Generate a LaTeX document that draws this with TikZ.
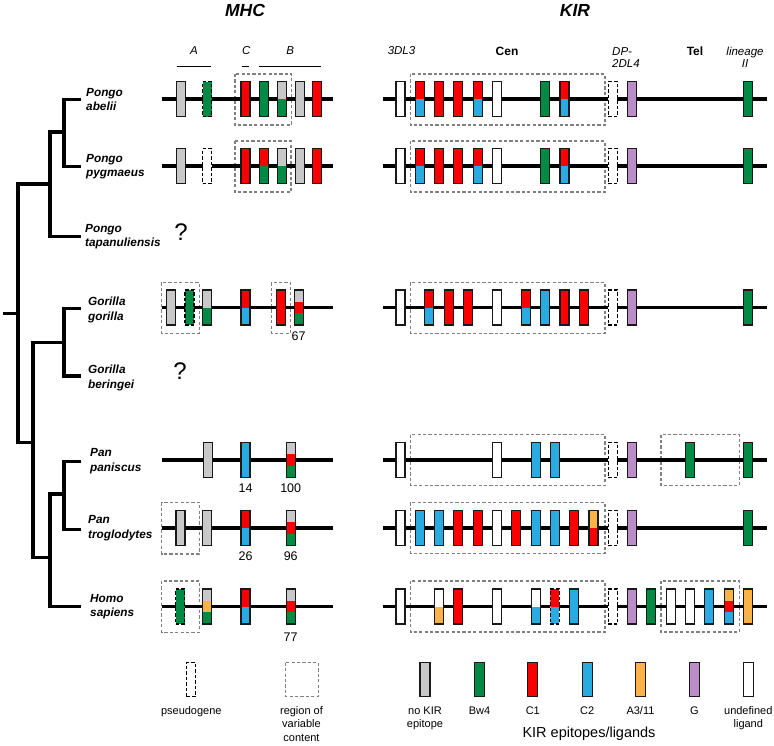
\documentclass[tikz,border=0pt]{standalone}
\usepackage{fontspec}
\setmainfont{Liberation Sans}
\usetikzlibrary{calc}
\definecolor{cgray}{RGB}{200,200,200}
\definecolor{cgreen}{RGB}{0,138,68}
\definecolor{cred}{RGB}{250,0,0}
\definecolor{cblue}{RGB}{41,171,226}
\definecolor{corange}{RGB}{251,178,70}
\definecolor{cpurple}{RGB}{186,140,200}
\definecolor{cregion}{RGB}{128,128,128}
\begin{document}
\begin{tikzpicture}[x=1pt,y=-1pt,
  chrom/.style={line width=3.1pt},
  tree/.style={line width=3.2pt, line join=miter},
  gene/.style={rectangle, draw=black!90, line width=1.1pt, minimum width=9pt, minimum height=35pt, inner sep=0pt, fill=white},
  lgene/.style={gene, minimum width=10pt, minimum height=34pt},
  pseudo/.style={gene, draw=black, line width=1.4pt, dash pattern=on 3.5pt off 2pt},
  region/.style={draw=cregion, line width=1.2pt, dash pattern=on 3.2pt off 2.2pt},
  two/.style 2 args={path picture={
    \fill[#1] (path picture bounding box.north west) rectangle (path picture bounding box.east);
    \fill[#2] (path picture bounding box.west) rectangle (path picture bounding box.south east);}},
  three/.style n args={3}{path picture={
    \fill[#1] (path picture bounding box.north west) rectangle ($(path picture bounding box.north east)!0.34!(path picture bounding box.south east)$);
    \fill[#2] ($(path picture bounding box.north west)!0.34!(path picture bounding box.south west)$) rectangle ($(path picture bounding box.north east)!0.66!(path picture bounding box.south east)$);
    \fill[#3] ($(path picture bounding box.north west)!0.66!(path picture bounding box.south west)$) rectangle (path picture bounding box.south east);}},
  sp/.style={font=\fontsize{11.8}{14.5}\selectfont\bfseries\itshape, align=left, anchor=west, inner sep=0pt},
  hdr/.style={font=\fontsize{17.5}{20}\selectfont\bfseries\itshape, inner sep=0pt},
  sub/.style={font=\fontsize{11.5}{12}\selectfont\itshape, inner sep=0pt},
  subb/.style={font=\fontsize{12}{13}\selectfont\bfseries, inner sep=0pt},
  num/.style={font=\fontsize{12.5}{14}\selectfont, inner sep=0pt},
  qm/.style={font=\fontsize{24}{26}\selectfont, inner sep=0pt},
  leg/.style={font=\fontsize{11}{13.3}\selectfont, align=center, anchor=north, inner sep=0pt},
  hline/.style={line width=1.1pt}
]
\useasboundingbox (0,0) rectangle (774,745);

% ---------------- headers
\node[hdr] (hMHC) at (245,10) {MHC};
\node[hdr] (hKIR) at (575,10) {KIR};
\node[sub] (hA) at (194,51) {A};
\node[sub] (hC) at (246.3,51) {C};
\node[sub] (hB) at (290.3,51) {B};
\coordinate (lA1) at (176.7,66.7); \coordinate (lA2) at (211,66.7);
\coordinate (lC1) at (241.7,66.7); \coordinate (lC2) at (249.3,66.7);
\coordinate (lB1) at (259.3,66.7); \coordinate (lB2) at (321,66.7);
\draw[hline] (lA1) -- (lA2);
\draw[hline] (lC1) -- (lC2);
\draw[hline] (lB1) -- (lB2);
\node[sub] (h3DL3) at (401.5,51) {3DL3};
\node[subb] (hCen) at (507,51) {Cen};
\node[sub, align=left, anchor=west, font=\fontsize{11.5}{11.8}\selectfont\itshape] (hDP) at (612,57.5) {DP-\\2DL4};
\node[subb] (hTel) at (695,51) {Tel};
\node[sub, align=center, font=\fontsize{11.5}{11.8}\selectfont\itshape] (hlin) at (745,57.5) {lineage\\II};

% ---------------- tree
\coordinate (t1) at (81,99.3);
\draw[tree] (t1) -| (64,166.7) -- (81,166.7);
\draw[tree] (64,132) -- (50,132) |- (81,236.7);
\draw[tree] (50,184) -- (18,184) -- (18,442.3) -- (33,442.3);
\draw[tree] (3,313.3) -- (18,313.3);
\draw[tree] (81,308.3) -| (64,376) -- (81,376);
\draw[tree] (64,342.7) -| (33,557.3) -- (50,557.3);
\draw[tree] (81,461.7) -| (64,529.3) -- (81,529.3);
\draw[tree] (64,494) -| (50,606.7) -- (81,606.7);

\node[sp] (Lpa) at (86,99.3) {Pongo\\abelii};
\node[sp] (Lpp) at (86,166.7) {Pongo\\pygmaeus};
\node[sp] (Lpt) at (85,236.7) {Pongo\\tapanuliensis};
\node[sp] (Lgg) at (88,310) {Gorilla\\gorilla};
\node[sp] (Lgb) at (88,378) {Gorilla\\beringei};
\node[sp] (Lpn) at (90,461) {Pan\\paniscus};
\node[sp] (Ltr) at (88,528) {Pan\\troglodytes};
\node[sp] (Lhs) at (90,606.7) {Homo\\sapiens};
\node[qm] (q1) at (181,232) {?};
\node[qm] (q2) at (180,371.5) {?};

% ---------------- MHC row 1: Pongo abelii
\draw[region] (235,74) rectangle (291.5,125);
\coordinate (m1a) at (161.7,99); \coordinate (m1b) at (332.7,99);
\draw[chrom] (m1a) -- (m1b);
\node[gene, fill=cgray] (m1g1) at (181,99) {};
\node[pseudo, fill=cgreen] (m1g2) at (207,99) {};
\node[gene, fill=cred] (m1g3) at (245.5,99) {};
\node[gene, fill=cgreen] (m1g4) at (263.7,99) {};
\node[gene, two={cgray}{cgreen}] (m1g5) at (281.7,99) {};
\node[gene, fill=cgray] (m1g6) at (300,99) {};
\node[gene, fill=cred] (m1g7) at (317,99) {};

% ---------------- MHC row 2: Pongo pygmaeus
\draw[region] (235,141) rectangle (291,192);
\coordinate (m2a) at (161.7,166); \coordinate (m2b) at (332.7,166);
\draw[chrom] (m2a) -- (m2b);
\node[gene, fill=cgray] (m2g1) at (181,166) {};
\node[pseudo] (m2g2) at (207,166) {};
\node[gene, fill=cred] (m2g3) at (245.5,166) {};
\node[gene, two={cred}{cgreen}] (m2g4) at (263.7,166) {};
\node[gene, two={cgray}{cgreen}] (m2g5) at (281.7,166) {};
\node[gene, fill=cgray] (m2g6) at (300,166) {};
\node[gene, fill=cred] (m2g7) at (317,166) {};

% ---------------- MHC row 3: Gorilla gorilla
\draw[region] (161.7,282.3) rectangle (199.3,333.3);
\draw[region] (271.7,282.3) rectangle (290.7,333.3);
\coordinate (m3a) at (161.7,307.5); \coordinate (m3b) at (332.7,307.5);
\draw[chrom] (m3a) -- (m3b);
\node[gene, fill=cgray] (m3g1) at (171,307.5) {};
\node[pseudo, fill=cgreen] (m3g2) at (189.5,307.5) {};
\node[gene, two={cgray}{cgreen}] (m3g3) at (207,307.5) {};
\node[gene, two={cred}{cblue}] (m3g4) at (245.5,307.5) {};
\node[gene, fill=cred] (m3g5) at (281,307.5) {};
\node[gene, three={cgray}{cred}{cgreen}] (m3g6) at (299,307.5) {};
\node[num] (n67) at (298.5,336) {67};

% ---------------- MHC row 4: Pan paniscus
\coordinate (m4a) at (161.7,460); \coordinate (m4b) at (332.7,460);
\draw[chrom] (m4a) -- (m4b);
\node[gene, fill=cgray] (m4g1) at (207.8,460) {};
\node[gene, fill=cblue] (m4g2) at (245.5,460) {};
\node[gene, three={cgray}{cred}{cgreen}] (m4g3) at (290.7,460) {};
\node[num] (n14) at (245.5,488) {14};
\node[num] (n100) at (290.7,488) {100};

% ---------------- MHC row 5: Pan troglodytes
\draw[region] (161.7,502.3) rectangle (199.3,554);
\coordinate (m5a) at (161.7,528); \coordinate (m5b) at (332.7,528);
\draw[chrom] (m5a) -- (m5b);
\node[gene, fill=cgray] (m5g1) at (180.5,528) {};
\node[gene, fill=cgray] (m5g2) at (207,528) {};
\node[gene, two={cred}{cblue}] (m5g3) at (245.5,528) {};
\node[gene, three={cgray}{cred}{cgreen}] (m5g4) at (290.7,528) {};
\node[num] (n26) at (245.5,556) {26};
\node[num] (n96) at (290.7,556) {96};

% ---------------- MHC row 6: Homo sapiens
\draw[region] (161.7,581) rectangle (199.3,632.3);
\coordinate (m6a) at (161.7,606.5); \coordinate (m6b) at (332.7,606.5);
\draw[chrom] (m6a) -- (m6b);
\node[pseudo, fill=cgreen] (m6g1) at (180,606.5) {};
\node[gene, three={cgray}{corange}{cgreen}] (m6g2) at (207,606.5) {};
\node[gene, two={cred}{cblue}] (m6g3) at (245.5,606.5) {};
\node[gene, three={cgray}{cred}{cgreen}] (m6g4) at (290.7,606.5) {};
\node[num] (n77) at (290.5,637) {77};

% ---------------- KIR row 1: Pongo abelii
\draw[region] (410.7,74) rectangle (605,125);
\coordinate (k1a) at (383.3,99); \coordinate (k1b) at (766.7,99);
\draw[chrom] (k1a) -- (k1b);
\node[gene] (k1g0) at (400.5,99) {};
\node[gene, two={cred}{cblue}] (k1g1) at (419.8,99) {};
\node[gene, fill=cred] (k1g2) at (439.1,99) {};
\node[gene, fill=cred] (k1g3) at (458.4,99) {};
\node[gene, two={cred}{cblue}] (k1g4) at (477.7,99) {};
\node[gene] (k1g5) at (497,99) {};
\node[gene, fill=cgreen] (k1g6) at (545.2,99) {};
\node[gene, two={cred}{cblue}] (k1g7) at (564.5,99) {};
\node[pseudo] (k1g8) at (612.8,99) {};
\node[gene, fill=cpurple] (k1g9) at (632.1,99) {};
\node[gene, fill=cgreen] (k1g10) at (747.9,99) {};

% ---------------- KIR row 2: Pongo pygmaeus
\draw[region] (410.7,141) rectangle (605,192);
\coordinate (k2a) at (383.3,166); \coordinate (k2b) at (766.7,166);
\draw[chrom] (k2a) -- (k2b);
\node[gene] (k2g0) at (400.5,166) {};
\node[gene, two={cred}{cblue}] (k2g1) at (419.8,166) {};
\node[gene, fill=cred] (k2g2) at (439.1,166) {};
\node[gene, fill=cred] (k2g3) at (458.4,166) {};
\node[gene, two={cred}{cblue}] (k2g4) at (477.7,166) {};
\node[gene] (k2g5) at (497,166) {};
\node[gene, fill=cgreen] (k2g6) at (545.2,166) {};
\node[gene, two={cred}{cblue}] (k2g7) at (564.5,166) {};
\node[pseudo] (k2g8) at (612.8,166) {};
\node[gene, fill=cpurple] (k2g9) at (632.1,166) {};
\node[gene, fill=cgreen] (k2g10) at (747.9,166) {};

% ---------------- KIR row 3: Gorilla gorilla
\draw[region] (410.7,282.3) rectangle (605,333.3);
\coordinate (k3a) at (383.3,307.5); \coordinate (k3b) at (766.7,307.5);
\draw[chrom] (k3a) -- (k3b);
\node[gene] (k3g0) at (400.5,307.5) {};
\node[gene, two={cred}{cblue}] (k3g1) at (429.4,307.5) {};
\node[gene, fill=cred] (k3g2) at (448.7,307.5) {};
\node[gene, fill=cred] (k3g3) at (468,307.5) {};
\node[gene] (k3g4) at (497,307.5) {};
\node[gene, two={cred}{cblue}] (k3g5) at (525.9,307.5) {};
\node[gene, fill=cblue] (k3g6) at (545.2,307.5) {};
\node[gene, fill=cred] (k3g7) at (564.5,307.5) {};
\node[gene, fill=cred] (k3g8) at (583.8,307.5) {};
\node[pseudo] (k3g9) at (612.8,307.5) {};
\node[gene, fill=cpurple] (k3g10) at (632.1,307.5) {};
\node[gene, fill=cgreen] (k3g11) at (747.9,307.5) {};

% ---------------- KIR row 4: Pan paniscus
\draw[region] (410.7,434.5) rectangle (605,485.5);
\draw[region] (661,434.5) rectangle (739.3,485.5);
\coordinate (k4a) at (383.3,460); \coordinate (k4b) at (766.7,460);
\draw[chrom] (k4a) -- (k4b);
\node[gene] (k4g0) at (400.5,460) {};
\node[gene] (k4g1) at (497,460) {};
\node[gene, fill=cblue] (k4g2) at (535.6,460) {};
\node[gene, fill=cblue] (k4g3) at (554.9,460) {};
\node[pseudo] (k4g4) at (612.8,460) {};
\node[gene, fill=cpurple] (k4g5) at (632.1,460) {};
\node[gene, fill=cgreen] (k4g6) at (690,460) {};
\node[gene, fill=cgreen] (k4g7) at (747.9,460) {};

% ---------------- KIR row 5: Pan troglodytes
\draw[region] (410.7,502.3) rectangle (605,553.3);
\coordinate (k5a) at (383.3,528); \coordinate (k5b) at (766.7,528);
\draw[chrom] (k5a) -- (k5b);
\node[gene] (k5g0) at (400.5,528) {};
\node[gene, fill=cblue] (k5g1) at (419.8,528) {};
\node[gene, fill=cblue] (k5g2) at (439.1,528) {};
\node[gene, fill=cred] (k5g3) at (458.4,528) {};
\node[gene, fill=cred] (k5g4) at (477.7,528) {};
\node[gene] (k5g5) at (497,528) {};
\node[gene, fill=cred] (k5g6) at (516.3,528) {};
\node[gene, fill=cblue] (k5g7) at (535.6,528) {};
\node[gene, fill=cblue] (k5g8) at (554.9,528) {};
\node[gene, fill=cred] (k5g9) at (574.2,528) {};
\node[gene, two={corange}{cred}] (k5g10) at (593.5,528) {};
\node[pseudo] (k5g11) at (612.8,528) {};
\node[gene, fill=cpurple] (k5g12) at (632.1,528) {};
\node[gene, fill=cgreen] (k5g13) at (747.9,528) {};

% ---------------- KIR row 6: Homo sapiens
\draw[region] (410.7,581) rectangle (605,632);
\draw[region] (661,581) rectangle (739.3,632);
\coordinate (k6a) at (383.3,606.5); \coordinate (k6b) at (766.7,606.5);
\draw[chrom] (k6a) -- (k6b);
\node[gene] (k6g0) at (400.5,606.5) {};
\node[gene, two={white}{corange}] (k6g1) at (439.1,606.5) {};
\node[gene, fill=cred] (k6g2) at (458.4,606.5) {};
\node[gene] (k6g3) at (497,606.5) {};
\node[gene, two={white}{cblue}] (k6g4) at (535.6,606.5) {};
\node[pseudo, two={cred}{cblue}] (k6g5) at (554.9,606.5) {};
\node[gene, fill=cblue] (k6g6) at (574.2,606.5) {};
\node[pseudo] (k6g7) at (612.8,606.5) {};
\node[gene, fill=cpurple] (k6g8) at (632.1,606.5) {};
\node[gene, fill=cgreen] (k6g9) at (651.4,606.5) {};
\node[gene] (k6g10) at (670.7,606.5) {};
\node[gene] (k6g11) at (690,606.5) {};
\node[gene, fill=cblue] (k6g12) at (709.3,606.5) {};
\node[gene, three={corange}{cred}{cblue}] (k6g13) at (728.6,606.5) {};
\node[gene, fill=corange] (k6g14) at (747.9,606.5) {};

% ---------------- legend
\node[pseudo, minimum width=9pt, minimum height=34pt] (Lps) at (191,679.7) {};
\node[leg] (Lpst) at (191.3,706.5) {pseudogene};
\draw[region] (285.7,662.7) rectangle (318.3,696.7);
\node[leg] (Lrgt) at (301.5,706.5) {region of\\variable\\content};

\node[lgene, fill=cgray] (Lk1) at (425,679.7) {};
\node[lgene, fill=cgreen] (Lk2) at (479.5,679.7) {};
\node[lgene, fill=cred] (Lk3) at (532.8,679.7) {};
\node[lgene, fill=cblue] (Lk4) at (587.2,679.7) {};
\node[lgene, fill=corange] (Lk5) at (640.5,679.7) {};
\node[lgene, fill=cpurple] (Lk6) at (694.5,679.7) {};
\node[lgene] (Lk7) at (748.3,679.7) {};
\node[leg] (Lt1) at (425,706.5) {no KIR\\epitope};
\node[leg] (Lt2) at (479.5,706.5) {Bw4};
\node[leg] (Lt3) at (532.8,706.5) {C1};
\node[leg] (Lt4) at (587.2,706.5) {C2};
\node[leg] (Lt5) at (640.5,706.5) {A3/11};
\node[leg] (Lt6) at (694.5,706.5) {G};
\node[leg] (Lt7) at (748.3,706.5) {undefined\\ligand};
\node[font=\fontsize{14.5}{16}\selectfont, inner sep=0pt] (Lkt) at (589,734) {KIR epitopes/ligands};
\end{tikzpicture}
\end{document}
